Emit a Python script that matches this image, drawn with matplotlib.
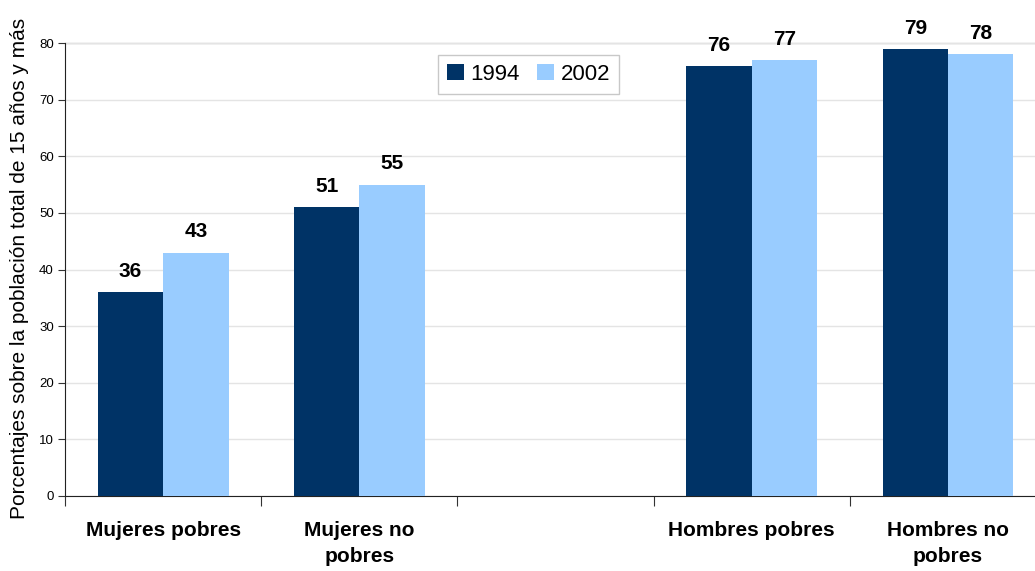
import numpy as np
import matplotlib
matplotlib.use("Agg")
import matplotlib.pyplot as plt

# Population groups (third slot left empty as a spacer between women and men)
categories = ["Mujeres pobres", "Mujeres no\npobres", "", "Hombres pobres", "Hombres no\npobres"]
years = ["1994", "2002"]
values_1994 = [36, 51, np.nan, 76, 79]
values_2002 = [43, 55, np.nan, 77, 78]
yticks = [0, 10, 20, 30, 40, 50, 60, 70, 80]
ylabel = "Porcentajes sobre la población total de 15 años y más"

colors = ["#003366", "#99CCFF"]

plt.rcParams["font.family"] = ["Liberation Sans", "DejaVu Sans"]

W, H = 1035, 571
fig = plt.figure(figsize=(W / 100, H / 100), dpi=100)
ax = fig.add_axes([65 / W, 1 - 496 / H, (1046 - 65) / W, (496 - 43) / H])

x = np.arange(len(categories))
bw = 1 / 3
series = [values_1994, values_2002]
for i, (vals, col, lab) in enumerate(zip(series, colors, years)):
    offs = (i - 0.5) * bw
    ax.bar(x + offs, vals, width=bw, color=col, label=lab, zorder=3)
    for xi, v in zip(x, vals):
        if np.isnan(v):
            continue
        ax.annotate(f"{v:.0f}", (xi + offs, v), xytext=(0, 8), textcoords="offset points",
                    ha="center", va="bottom", fontsize=15, fontweight="bold",
                    annotation_clip=False)

ax.set_xlim(-0.5, len(categories) - 0.5)
ax.set_ylim(0, 80)
ax.set_yticks(yticks)
ax.tick_params(axis="y", labelsize=9.5, length=5, width=0.8, color="#333333", pad=3)

ax.set_xticks(np.arange(len(categories) + 1) - 0.5)
ax.set_xticklabels([])
ax.tick_params(axis="x", length=7, width=0.8, color="#333333", direction="out")
for xi, cat in zip(x, categories):
    if cat:
        ax.text(xi, -4.5, cat, ha="center", va="top", fontsize=15, fontweight="bold",
                linespacing=1.45, transform=ax.transData, clip_on=False)

ax.grid(axis="y", color="#e4e4e4", linewidth=1, zorder=0)
for s in ["right", "top"]:
    ax.spines[s].set_visible(False)
ax.axhline(80, color="#c0c0c0", linewidth=1, zorder=1, clip_on=False)
ax.spines["left"].set_color("#222222")
ax.spines["bottom"].set_color("#222222")

fig.text(20 / W, 1 - 268 / H, ylabel, rotation=90, ha="center", va="center", fontsize=15)

leg = ax.legend(loc="upper left", bbox_to_anchor=((438 - 65) / (1046 - 65), 1 - (55 - 43) / (496 - 43)),
                ncol=2, fontsize=16, frameon=True, fancybox=False, handlelength=0.75,
                handleheight=0.75, handletextpad=0.3, columnspacing=0.8, borderpad=0.4,
                borderaxespad=0)
leg.get_frame().set_edgecolor("#bbbbbb")
leg.get_frame().set_linewidth(1)

fig.savefig("out.png", dpi=100)
